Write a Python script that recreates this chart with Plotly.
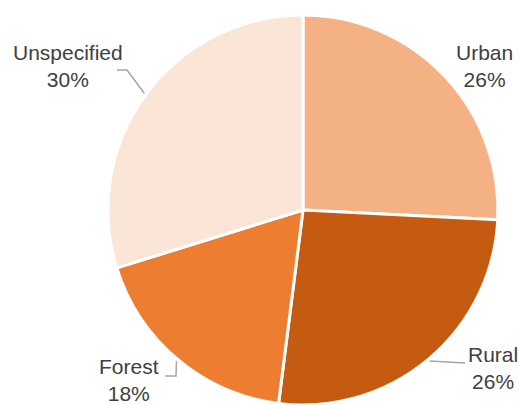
import math
import plotly.graph_objects as go

categories = ["Urban", "Rural", "Forest", "Unspecified"]
values = [25.8, 26.2, 18.2, 29.8]
pct_labels = ["26%", "26%", "18%", "30%"]
colors = ["#F4B183", "#C55A11", "#ED7D31", "#FBE5D6"]

W, H = 519, 405
cx, cy, R = 303, 212, 197

# label text centers and leader elbow points, in px -- styling/layout
label_pos = {"Urban": (484, 66), "Rural": (493, 368), "Forest": (129, 380), "Unspecified": (68, 66)}
leader_pts = {"Urban": [], "Rural": [(465, 363)], "Forest": [(176, 376), (165, 376)],
              "Unspecified": [(127, 70), (117, 70)]}

top = cy - R
R_fit = (H - top) / 2
fig = go.Figure(go.Pie(
    labels=categories, values=values, sort=False, direction="clockwise", rotation=0,
    marker=dict(colors=colors, line=dict(color="white", width=3)),
    textinfo="none", hoverinfo="label+percent", showlegend=False,
    domain=dict(x=[(cx - R_fit) / W, (cx + R_fit) / W], y=[0, 1 - top / H]),
))

def px2paper(x, y):
    return x / W, 1 - y / H

pcy = top + R_fit
total = sum(values)
cum = 0
annotations = []
shapes = []
for cat, v, pct in zip(categories, values, pct_labels):
    mid = (cum + v / 2) / total * 2 * math.pi
    cum += v
    ax = cx + (R_fit + 2) * math.sin(mid)
    ay = pcy - (R_fit + 2) * math.cos(mid)
    lx, ly = label_pos[cat]
    px_, py_ = px2paper(lx, ly)
    annotations.append(dict(x=px_, y=py_, xref="paper", yref="paper", text=f"{cat}<br>{pct}",
                            showarrow=False, xanchor="center", yanchor="middle",
                            font=dict(family="Liberation Sans, Arial", size=21, color="#404040")))
    pts = [(ax, ay)] + leader_pts[cat]
    if len(pts) > 1:
        path = "M " + " L ".join(f"{px2paper(x, y)[0]},{px2paper(x, y)[1]}" for x, y in pts)
        shapes.append(dict(type="path", xref="paper", yref="paper", path=path,
                           line=dict(color="#A6A6A6", width=1.5)))

fig.update_layout(width=W, height=H, margin=dict(l=0, r=0, t=0, b=0),
                  paper_bgcolor="white", plot_bgcolor="white",
                  annotations=annotations, shapes=shapes)
fig.write_html("out.html", config={"displayModeBar": False},
               post_script="document.body.style.margin='0';document.body.style.overflow='hidden';")
